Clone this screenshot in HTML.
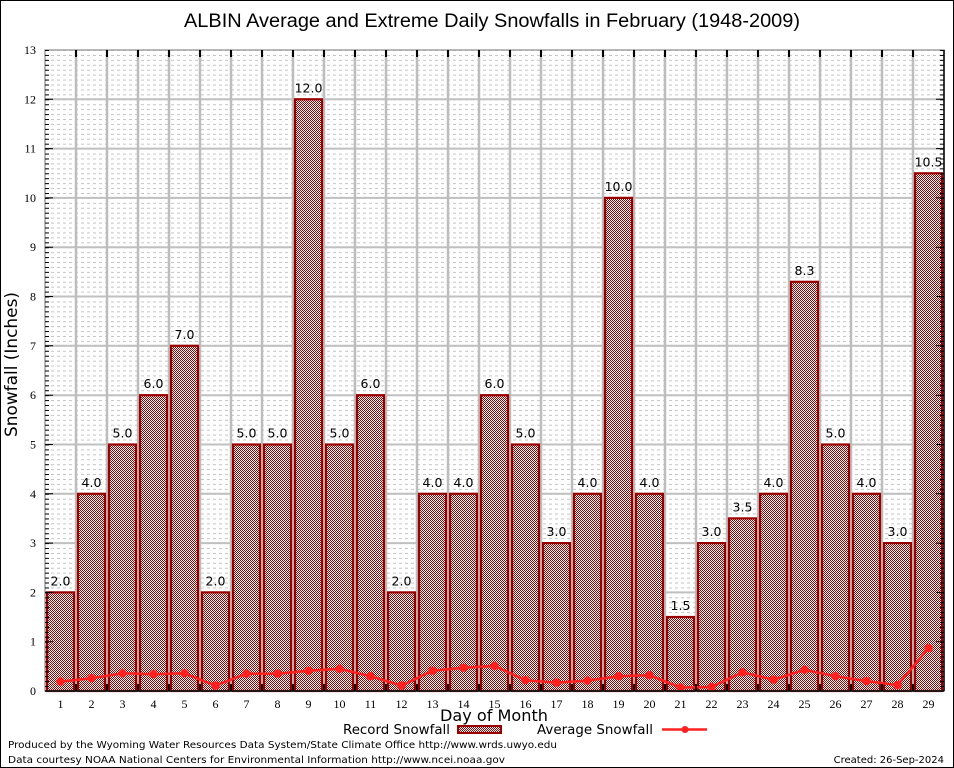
<!DOCTYPE html>
<html><head><meta charset="utf-8"><style>
html,body{margin:0;padding:0;background:#fff;}
svg{display:block;}
.ty{font-family:"Liberation Serif",serif;font-size:12px;text-anchor:end;fill:#000;}
.tx{font-family:"Liberation Serif",serif;font-size:12px;text-anchor:middle;fill:#000;}
.bl{font-family:"DejaVu Sans","Liberation Sans",sans-serif;font-size:12.5px;text-anchor:middle;fill:#000;}
.ft{font-family:"DejaVu Sans","Liberation Sans",sans-serif;font-size:10px;fill:#000;}
.lg{font-family:"DejaVu Sans","Liberation Sans",sans-serif;font-size:13px;fill:#000;}
</style></head><body>
<svg width="954" height="768" viewBox="0 0 954 768" xmlns="http://www.w3.org/2000/svg">
<defs>
<pattern id="chk" patternUnits="userSpaceOnUse" width="2" height="2">
<rect x="0" y="0" width="2" height="2" fill="#fff" shape-rendering="crispEdges"/>
<rect x="0" y="0" width="1" height="1" fill="#990000" shape-rendering="crispEdges"/>
<rect x="1" y="1" width="1" height="1" fill="#990000" shape-rendering="crispEdges"/>
</pattern>
<pattern id="mg" patternUnits="userSpaceOnUse" x="45" y="50" width="6" height="4.93077">
<line x1="0" y1="0.5" x2="3" y2="0.5" stroke="#c4c4c4" stroke-width="1"/>
</pattern>
<pattern id="mtl" patternUnits="userSpaceOnUse" x="45" y="50" width="4" height="4.93077">
<rect x="0" y="0" width="4" height="1" fill="#000"/>
</pattern>
</defs>
<rect x="0" y="0" width="954" height="768" fill="#fff"/>
<rect x="0.5" y="0.5" width="953" height="767" fill="none" stroke="#000" stroke-width="1"/>

<!-- minor grid -->
<rect x="45" y="50" width="899" height="641" fill="url(#mg)"/>

<!-- major horizontal grid -->
<g stroke="#c0c0c0" stroke-width="2">
<line x1="45" x2="944" y1="641.7" y2="641.7"/>
<line x1="45" x2="944" y1="592.4" y2="592.4"/>
<line x1="45" x2="944" y1="543.1" y2="543.1"/>
<line x1="45" x2="944" y1="493.8" y2="493.8"/>
<line x1="45" x2="944" y1="444.5" y2="444.5"/>
<line x1="45" x2="944" y1="395.2" y2="395.2"/>
<line x1="45" x2="944" y1="345.8" y2="345.8"/>
<line x1="45" x2="944" y1="296.5" y2="296.5"/>
<line x1="45" x2="944" y1="247.2" y2="247.2"/>
<line x1="45" x2="944" y1="197.9" y2="197.9"/>
<line x1="45" x2="944" y1="148.6" y2="148.6"/>
<line x1="45" x2="944" y1="99.3" y2="99.3"/>
</g>
<!-- vertical grid -->
<g stroke="#bdbdbd" stroke-width="2.5">
<line x1="76" x2="76" y1="50" y2="691"/><line x1="107" x2="107" y1="50" y2="691"/><line x1="138" x2="138" y1="50" y2="691"/><line x1="169" x2="169" y1="50" y2="691"/><line x1="200" x2="200" y1="50" y2="691"/><line x1="231" x2="231" y1="50" y2="691"/><line x1="262" x2="262" y1="50" y2="691"/><line x1="293" x2="293" y1="50" y2="691"/><line x1="324" x2="324" y1="50" y2="691"/><line x1="355" x2="355" y1="50" y2="691"/><line x1="386" x2="386" y1="50" y2="691"/><line x1="417" x2="417" y1="50" y2="691"/><line x1="448" x2="448" y1="50" y2="691"/><line x1="479" x2="479" y1="50" y2="691"/><line x1="510" x2="510" y1="50" y2="691"/><line x1="541" x2="541" y1="50" y2="691"/><line x1="572" x2="572" y1="50" y2="691"/><line x1="603" x2="603" y1="50" y2="691"/><line x1="634" x2="634" y1="50" y2="691"/><line x1="665" x2="665" y1="50" y2="691"/><line x1="696" x2="696" y1="50" y2="691"/><line x1="727" x2="727" y1="50" y2="691"/><line x1="758" x2="758" y1="50" y2="691"/><line x1="789" x2="789" y1="50" y2="691"/><line x1="820" x2="820" y1="50" y2="691"/><line x1="851" x2="851" y1="50" y2="691"/><line x1="882" x2="882" y1="50" y2="691"/><line x1="913" x2="913" y1="50" y2="691"/>
</g>

<!-- bars -->
<g fill="url(#chk)" stroke="#990000" stroke-width="2.2">
<rect x="47" y="592.4" width="27" height="98.6"/>
<rect x="78" y="493.8" width="27" height="197.2"/>
<rect x="109" y="444.5" width="27" height="246.5"/>
<rect x="140" y="395.2" width="27" height="295.8"/>
<rect x="171" y="345.8" width="27" height="345.2"/>
<rect x="202" y="592.4" width="27" height="98.6"/>
<rect x="233" y="444.5" width="27" height="246.5"/>
<rect x="264" y="444.5" width="27" height="246.5"/>
<rect x="295" y="99.3" width="27" height="591.7"/>
<rect x="326" y="444.5" width="27" height="246.5"/>
<rect x="357" y="395.2" width="27" height="295.8"/>
<rect x="388" y="592.4" width="27" height="98.6"/>
<rect x="419" y="493.8" width="27" height="197.2"/>
<rect x="450" y="493.8" width="27" height="197.2"/>
<rect x="481" y="395.2" width="27" height="295.8"/>
<rect x="512" y="444.5" width="27" height="246.5"/>
<rect x="543" y="543.1" width="27" height="147.9"/>
<rect x="574" y="493.8" width="27" height="197.2"/>
<rect x="605" y="197.9" width="27" height="493.1"/>
<rect x="636" y="493.8" width="27" height="197.2"/>
<rect x="667" y="617.0" width="27" height="74.0"/>
<rect x="698" y="543.1" width="27" height="147.9"/>
<rect x="729" y="518.4" width="27" height="172.6"/>
<rect x="760" y="493.8" width="27" height="197.2"/>
<rect x="791" y="281.8" width="27" height="409.2"/>
<rect x="822" y="444.5" width="27" height="246.5"/>
<rect x="853" y="493.8" width="27" height="197.2"/>
<rect x="884" y="543.1" width="27" height="147.9"/>
<rect x="915" y="173.3" width="27" height="517.7"/>
</g>

<!-- bar labels -->
<g class="bl">
<text x="60.5" y="585.4">2.0</text>
<text x="91.5" y="486.8">4.0</text>
<text x="122.5" y="437.5">5.0</text>
<text x="153.5" y="388.2">6.0</text>
<text x="184.5" y="338.8">7.0</text>
<text x="215.5" y="585.4">2.0</text>
<text x="246.5" y="437.5">5.0</text>
<text x="277.5" y="437.5">5.0</text>
<text x="308.5" y="92.3">12.0</text>
<text x="339.5" y="437.5">5.0</text>
<text x="370.5" y="388.2">6.0</text>
<text x="401.5" y="585.4">2.0</text>
<text x="432.5" y="486.8">4.0</text>
<text x="463.5" y="486.8">4.0</text>
<text x="494.5" y="388.2">6.0</text>
<text x="525.5" y="437.5">5.0</text>
<text x="556.5" y="536.1">3.0</text>
<text x="587.5" y="486.8">4.0</text>
<text x="618.5" y="190.9">10.0</text>
<text x="649.5" y="486.8">4.0</text>
<text x="680.5" y="610.0">1.5</text>
<text x="711.5" y="536.1">3.0</text>
<text x="742.5" y="511.4">3.5</text>
<text x="773.5" y="486.8">4.0</text>
<text x="804.5" y="274.8">8.3</text>
<text x="835.5" y="437.5">5.0</text>
<text x="866.5" y="486.8">4.0</text>
<text x="897.5" y="536.1">3.0</text>
<text x="928.5" y="166.3">10.5</text>
</g>

<!-- average line -->
<polyline fill="none" stroke="#ff2020" stroke-width="2.5" stroke-linejoin="round" points="60.5,681.6 91.5,678.2 122.5,673.3 153.5,674.2 184.5,673.3 215.5,685.6 246.5,673.7 277.5,673.7 308.5,670.8 339.5,668.8 370.5,676.2 401.5,685.6 432.5,670.8 463.5,667.8 494.5,665.9 525.5,680.2 556.5,682.6 587.5,680.6 618.5,676.2 649.5,675.2 680.5,687.5 711.5,687.0 742.5,672.3 773.5,679.7 804.5,669.8 835.5,676.2 866.5,681.1 897.5,685.1 928.5,648.1"/>
<g fill="#ff2020">
<circle cx="60.5" cy="681.6" r="4.2"/><circle cx="91.5" cy="678.2" r="4.2"/><circle cx="122.5" cy="673.3" r="4.2"/><circle cx="153.5" cy="674.2" r="4.2"/><circle cx="184.5" cy="673.3" r="4.2"/><circle cx="215.5" cy="685.6" r="4.2"/><circle cx="246.5" cy="673.7" r="4.2"/><circle cx="277.5" cy="673.7" r="4.2"/><circle cx="308.5" cy="670.8" r="4.2"/><circle cx="339.5" cy="668.8" r="4.2"/><circle cx="370.5" cy="676.2" r="4.2"/><circle cx="401.5" cy="685.6" r="4.2"/><circle cx="432.5" cy="670.8" r="4.2"/><circle cx="463.5" cy="667.8" r="4.2"/><circle cx="494.5" cy="665.9" r="4.2"/><circle cx="525.5" cy="680.2" r="4.2"/><circle cx="556.5" cy="682.6" r="4.2"/><circle cx="587.5" cy="680.6" r="4.2"/><circle cx="618.5" cy="676.2" r="4.2"/><circle cx="649.5" cy="675.2" r="4.2"/><circle cx="680.5" cy="687.5" r="4.2"/><circle cx="711.5" cy="687.0" r="4.2"/><circle cx="742.5" cy="672.3" r="4.2"/><circle cx="773.5" cy="679.7" r="4.2"/><circle cx="804.5" cy="669.8" r="4.2"/><circle cx="835.5" cy="676.2" r="4.2"/><circle cx="866.5" cy="681.1" r="4.2"/><circle cx="897.5" cy="685.1" r="4.2"/><circle cx="928.5" cy="648.1" r="4.2"/>
</g>

<!-- plot border -->
<rect x="45" y="50" width="899" height="641" fill="none" stroke="#a0a0a0" stroke-width="1.5"/>
<line x1="45" y1="691" x2="944" y2="691" stroke="#000" stroke-width="1.5"/>
<line x1="944" y1="50" x2="944" y2="691" stroke="#000" stroke-width="1.5"/>

<!-- ticks -->
<g stroke="#000" stroke-width="1">
<path d="M45 641.7h8M45 592.4h8M45 543.1h8M45 493.8h8M45 444.5h8M45 395.2h8M45 345.8h8M45 296.5h8M45 247.2h8M45 197.9h8M45 148.6h8M45 99.3h8M944 641.7h-8M944 592.4h-8M944 543.1h-8M944 493.8h-8M944 444.5h-8M944 395.2h-8M944 345.8h-8M944 296.5h-8M944 247.2h-8M944 197.9h-8M944 148.6h-8M944 99.3h-8"/>
</g>
<g stroke="#000" stroke-width="2">
<path d="M76 50v7M107 50v7M138 50v7M169 50v7M200 50v7M231 50v7M262 50v7M293 50v7M324 50v7M355 50v7M386 50v7M417 50v7M448 50v7M479 50v7M510 50v7M541 50v7M572 50v7M603 50v7M634 50v7M665 50v7M696 50v7M727 50v7M758 50v7M789 50v7M820 50v7M851 50v7M882 50v7M913 50v7"/>
<path d="M76 691v-7M107 691v-7M138 691v-7M169 691v-7M200 691v-7M231 691v-7M262 691v-7M293 691v-7M324 691v-7M355 691v-7M386 691v-7M417 691v-7M448 691v-7M479 691v-7M510 691v-7M541 691v-7M572 691v-7M603 691v-7M634 691v-7M665 691v-7M696 691v-7M727 691v-7M758 691v-7M789 691v-7M820 691v-7M851 691v-7M882 691v-7M913 691v-7"/>
</g>
<rect x="45" y="50" width="4" height="641" fill="url(#mtl)"/>
<rect x="940" y="50" width="4" height="641" fill="url(#mtl)"/>

<!-- y tick labels -->
<g class="ty">
<text x="36" y="695">0</text>
<text x="36" y="645.7">1</text>
<text x="36" y="596.4">2</text>
<text x="36" y="547.1">3</text>
<text x="36" y="497.8">4</text>
<text x="36" y="448.5">5</text>
<text x="36" y="399.2">6</text>
<text x="36" y="349.8">7</text>
<text x="36" y="300.5">8</text>
<text x="36" y="251.2">9</text>
<text x="36" y="201.9">10</text>
<text x="36" y="152.6">11</text>
<text x="36" y="103.3">12</text>
<text x="36" y="54">13</text>
</g>

<!-- x tick labels -->
<g class="tx">
<text x="60.5" y="708">1</text><text x="91.5" y="708">2</text><text x="122.5" y="708">3</text><text x="153.5" y="708">4</text><text x="184.5" y="708">5</text><text x="215.5" y="708">6</text><text x="246.5" y="708">7</text><text x="277.5" y="708">8</text><text x="308.5" y="708">9</text><text x="339.5" y="708">10</text><text x="370.5" y="708">11</text><text x="401.5" y="708">12</text><text x="432.5" y="708">13</text><text x="463.5" y="708">14</text><text x="494.5" y="708">15</text><text x="525.5" y="708">16</text><text x="556.5" y="708">17</text><text x="587.5" y="708">18</text><text x="618.5" y="708">19</text><text x="649.5" y="708">20</text><text x="680.5" y="708">21</text><text x="711.5" y="708">22</text><text x="742.5" y="708">23</text><text x="773.5" y="708">24</text><text x="804.5" y="708">25</text><text x="835.5" y="708">26</text><text x="866.5" y="708">27</text><text x="897.5" y="708">28</text><text x="928.5" y="708">29</text>
</g>

<!-- title -->
<text x="184" y="27" font-family="'Liberation Sans',sans-serif" font-size="19" fill="#000" textLength="616" lengthAdjust="spacingAndGlyphs">ALBIN Average and Extreme Daily Snowfalls in February (1948-2009)</text>

<!-- axis titles -->
<text x="494" y="721" font-family="'DejaVu Sans','Liberation Sans',sans-serif" font-size="16" text-anchor="middle" fill="#000" textLength="108" lengthAdjust="spacingAndGlyphs">Day of Month</text>
<text transform="translate(17,437) rotate(-90)" x="0" y="0" font-family="'DejaVu Sans','Liberation Sans',sans-serif" font-size="17" fill="#000" textLength="145" lengthAdjust="spacingAndGlyphs">Snowfall (Inches)</text>

<!-- legend -->
<text class="lg" x="450" y="734" text-anchor="end" textLength="107" lengthAdjust="spacingAndGlyphs">Record Snowfall</text>
<rect x="458" y="726" width="43" height="7" fill="url(#chk)" stroke="#990000" stroke-width="2"/>
<text class="lg" x="537" y="734" textLength="116" lengthAdjust="spacingAndGlyphs">Average Snowfall</text>
<line x1="662" y1="729.5" x2="707" y2="729.5" stroke="#ff2020" stroke-width="2.5"/>
<circle cx="685" cy="729.5" r="3.5" fill="#ff2020"/>

<!-- footer -->
<text class="ft" x="8" y="748" textLength="549" lengthAdjust="spacingAndGlyphs">Produced by the Wyoming Water Resources Data System/State Climate Office http://www.wrds.uwyo.edu</text>
<text class="ft" x="8" y="763" textLength="497" lengthAdjust="spacingAndGlyphs">Data courtesy NOAA National Centers for Environmental Information http://www.ncei.noaa.gov</text>
<text class="ft" x="944" y="763" text-anchor="end">Created: 26-Sep-2024</text>
</svg>
</body></html>
